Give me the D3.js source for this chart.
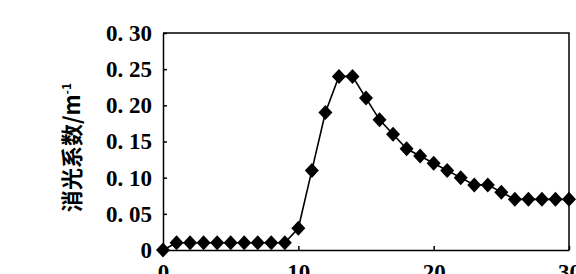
<!DOCTYPE html>
<html>
<head>
<meta charset="utf-8">
<script src="https://cdn.jsdelivr.net/npm/d3@7"></script>
<style>
body { margin: 0; background: #fff; }
svg.main { display: block; }
.axis path, .axis line { stroke: #000; stroke-width: 1.5; }
.axis text { font-family: "Liberation Serif", "DejaVu Serif", serif; font-size: 23px; font-weight: bold; fill: #000; }
</style>
</head>
<body>
<script>
// distance (x) and extinction coefficient (y)
var xs = [0, 1, 2, 3, 4, 5, 6, 7, 8, 9, 10, 11, 12, 13, 14, 15, 16, 17, 18, 19, 20,
          21, 22, 23, 24, 25, 26, 27, 28, 29, 30];
var ys = [0, 0.01, 0.01, 0.01, 0.01, 0.01, 0.01, 0.01, 0.01, 0.01, 0.03, 0.11, 0.19, 0.24, 0.24,
          0.21, 0.18, 0.16, 0.14, 0.13, 0.12, 0.11, 0.10, 0.09, 0.09, 0.08, 0.07, 0.07, 0.07, 0.07, 0.07];
var yTicks = [0, 0.05, 0.10, 0.15, 0.20, 0.25, 0.30];
var xTicks = [0, 10, 20, 30];
var yTitle = "消光系数/m";

var W = 576, H = 274;
var padL = 163, padR = 569, padT = 33, padB = 250;

var svg = d3.select("body").append("svg")
    .attr("class", "main")
    .attr("width", W)
    .attr("height", H);

var x = d3.scaleLinear().domain([0, 30]).range([padL, padR]);
var y = d3.scaleLinear().domain([0, 0.30]).range([padB, padT]);

function yfmt(d) {
    if (d === 0) return "0";
    return d3.format(".2f")(d).replace(".", ". ");
}

svg.append("g")
    .attr("class", "axis")
    .attr("transform", "translate(" + padL + ",0)")
    .call(d3.axisLeft(y).tickValues(yTicks).tickFormat(yfmt)
        .tickSizeInner(-4).tickSizeOuter(0).tickPadding(11));

svg.append("g")
    .attr("class", "axis")
    .attr("transform", "translate(0," + padB + ")")
    .call(d3.axisBottom(x).tickValues(xTicks).tickFormat(d3.format("d"))
        .tickSizeInner(-4).tickSizeOuter(0).tickPadding(14));

// top and right frame
svg.append("path")
    .attr("d", "M" + padL + "," + padT + "H" + padR + "V" + padB)
    .attr("fill", "none")
    .attr("stroke", "#000")
    .attr("stroke-width", 1.5);

var line = d3.line()
    .x(function (d, i) { return x(xs[i]); })
    .y(function (d, i) { return y(ys[i]); });

svg.append("path")
    .datum(ys)
    .attr("d", line)
    .attr("fill", "none")
    .attr("stroke", "#000")
    .attr("stroke-width", 1.6);

var hw = 7, hh = 7.5;
svg.selectAll("path.mark")
    .data(ys)
    .enter().append("path")
    .attr("class", "mark")
    .attr("d", function (d, i) {
        var cx = x(xs[i]), cy = y(d);
        return "M" + cx + "," + (cy - hh) + "L" + (cx + hw) + "," + cy +
               "L" + cx + "," + (cy + hh) + "L" + (cx - hw) + "," + cy + "Z";
    })
    .attr("fill", "#000");

var t = svg.append("text")
    .attr("transform", "translate(80," + ((padT + padB) / 2 + 6) + ") rotate(-90)")
    .attr("text-anchor", "middle")
    .style("font-family", "'Noto Sans CJK SC', sans-serif")
    .style("font-weight", "bold")
    .style("font-size", "22px")
    .attr("fill", "#000");
t.append("tspan").text(yTitle);
t.append("tspan").attr("dy", -9).style("font-size", "12px").text("-1");
</script>
</body>
</html>
